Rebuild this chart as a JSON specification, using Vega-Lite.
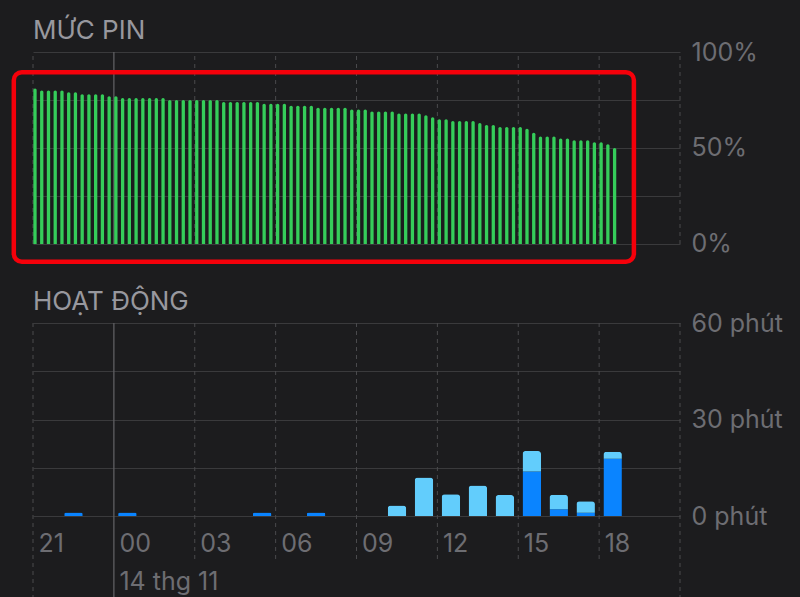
{
  "$schema": "https://vega.github.io/schema/vega-lite/v6.json",
  "description": "Pin iPhone: mức pin theo 15 phút và thời gian hoạt động theo giờ",
  "width": 647,
  "height": 464,
  "autosize": {"type": "none"},
  "padding": {"left": 33, "top": 52, "right": 120, "bottom": 81},
  "background": "#1c1c1e",
  "config": {"view": {"stroke": null}, "font": "Inter"},
  "datasets": {
    "muc_pin": [
      {"t": 0, "pin": 81}, {"t": 0.25, "pin": 80}, {"t": 0.5, "pin": 80}, {"t": 0.75, "pin": 80},
      {"t": 1, "pin": 80}, {"t": 1.25, "pin": 79}, {"t": 1.5, "pin": 79}, {"t": 1.75, "pin": 78},
      {"t": 2, "pin": 78}, {"t": 2.25, "pin": 78}, {"t": 2.5, "pin": 78}, {"t": 2.75, "pin": 77},
      {"t": 3, "pin": 77}, {"t": 3.25, "pin": 76}, {"t": 3.5, "pin": 76}, {"t": 3.75, "pin": 76},
      {"t": 4, "pin": 76}, {"t": 4.25, "pin": 76}, {"t": 4.5, "pin": 76}, {"t": 4.75, "pin": 76},
      {"t": 5, "pin": 75}, {"t": 5.25, "pin": 75}, {"t": 5.5, "pin": 75}, {"t": 5.75, "pin": 75},
      {"t": 6, "pin": 75}, {"t": 6.25, "pin": 75}, {"t": 6.5, "pin": 75}, {"t": 6.75, "pin": 75},
      {"t": 7, "pin": 74}, {"t": 7.25, "pin": 74}, {"t": 7.5, "pin": 74}, {"t": 7.75, "pin": 74},
      {"t": 8, "pin": 74}, {"t": 8.25, "pin": 74}, {"t": 8.5, "pin": 73}, {"t": 8.75, "pin": 73},
      {"t": 9, "pin": 73}, {"t": 9.25, "pin": 73}, {"t": 9.5, "pin": 72}, {"t": 9.75, "pin": 72},
      {"t": 10, "pin": 72}, {"t": 10.25, "pin": 72}, {"t": 10.5, "pin": 71}, {"t": 10.75, "pin": 71},
      {"t": 11, "pin": 71}, {"t": 11.25, "pin": 71}, {"t": 11.5, "pin": 71}, {"t": 11.75, "pin": 70},
      {"t": 12, "pin": 70}, {"t": 12.25, "pin": 70}, {"t": 12.5, "pin": 69}, {"t": 12.75, "pin": 69},
      {"t": 13, "pin": 69}, {"t": 13.25, "pin": 69}, {"t": 13.5, "pin": 68}, {"t": 13.75, "pin": 68},
      {"t": 14, "pin": 68}, {"t": 14.25, "pin": 68}, {"t": 14.5, "pin": 67}, {"t": 14.75, "pin": 66},
      {"t": 15, "pin": 65}, {"t": 15.25, "pin": 65}, {"t": 15.5, "pin": 64}, {"t": 15.75, "pin": 64},
      {"t": 16, "pin": 64}, {"t": 16.25, "pin": 64}, {"t": 16.5, "pin": 63}, {"t": 16.75, "pin": 62},
      {"t": 17, "pin": 62}, {"t": 17.25, "pin": 61}, {"t": 17.5, "pin": 61}, {"t": 17.75, "pin": 61},
      {"t": 18, "pin": 61}, {"t": 18.25, "pin": 60}, {"t": 18.5, "pin": 58}, {"t": 18.75, "pin": 56},
      {"t": 19, "pin": 56}, {"t": 19.25, "pin": 56}, {"t": 19.5, "pin": 55}, {"t": 19.75, "pin": 55},
      {"t": 20, "pin": 54}, {"t": 20.25, "pin": 54}, {"t": 20.5, "pin": 54}, {"t": 20.75, "pin": 53},
      {"t": 21, "pin": 53}, {"t": 21.25, "pin": 52}, {"t": 21.5, "pin": 50}
    ],
    "hoat_dong": [
      {"t": 1, "loai": "Màn hình bật", "phut": 1.1},
      {"t": 3, "loai": "Màn hình bật", "phut": 1.1},
      {"t": 8, "loai": "Màn hình bật", "phut": 1.1},
      {"t": 10, "loai": "Màn hình bật", "phut": 1.1},
      {"t": 13, "loai": "Màn hình tắt", "phut": 3.3},
      {"t": 14, "loai": "Màn hình tắt", "phut": 12},
      {"t": 15, "loai": "Màn hình tắt", "phut": 6.8},
      {"t": 16, "loai": "Màn hình tắt", "phut": 9.5},
      {"t": 17, "loai": "Màn hình tắt", "phut": 6.5},
      {"t": 18, "loai": "Màn hình bật", "phut": 13.8},
      {"t": 18, "loai": "Màn hình tắt", "phut": 6.4},
      {"t": 19, "loai": "Màn hình bật", "phut": 2.1},
      {"t": 19, "loai": "Màn hình tắt", "phut": 4.5},
      {"t": 20, "loai": "Màn hình bật", "phut": 1},
      {"t": 20, "loai": "Màn hình tắt", "phut": 3.6},
      {"t": 21, "loai": "Màn hình bật", "phut": 17.8},
      {"t": 21, "loai": "Màn hình tắt", "phut": 2.2}
    ],
    "luoi": [
      {"t": 0}, {"t": 3}, {"t": 6}, {"t": 9}, {"t": 12},
      {"t": 15}, {"t": 18}, {"t": 21}, {"t": 24}
    ]
  },
  "encoding": {
    "x": {
      "type": "quantitative",
      "scale": {"domain": [0, 24], "nice": false, "zero": false, "padding": 0},
      "axis": {
        "values": [0, 3, 6, 9, 12, 15, 18, 21, 24],
        "labelExpr": "datum.value == 24 ? '' : datum.value == 3 ? ['00', '14 thg 11'] : ['21', '00', '03', '06', '09', '12', '15', '18'][datum.value / 3]",
        "grid": false,
        "ticks": false,
        "domain": false,
        "title": null,
        "labelAlign": "left",
        "labelBaseline": "alphabetic",
        "labelPadding": 35,
        "labelOffset": 5,
        "labelFontSize": 25,
        "labelColor": "#6d6d72",
        "labelLineHeight": 38,
        "labelFlush": false,
        "labelOverlap": false,
        "labelBound": false
      }
    }
  },
  "layer": [
    {
      "layer": [
        {
          "data": {"name": "luoi"},
          "transform": [{"filter": "datum.t != 3"}],
          "mark": {"type": "rule", "color": "#4a4a4d", "strokeWidth": 1, "strokeDash": [4, 4]},
          "encoding": {
            "x": {"field": "t"},
            "y": {"datum": 0, "type": "quantitative", "scale": {"domain": [-141.67, 100], "nice": false, "zero": false}},
            "y2": {"datum": 100}
          }
        },
        {
          "data": {"name": "luoi"},
          "transform": [{"filter": "datum.t == 3"}],
          "mark": {"type": "rule", "color": "#5e5e62", "strokeWidth": 1.3},
          "encoding": {
            "x": {"field": "t"},
            "y": {"datum": 0, "type": "quantitative", "scale": {"domain": [-141.67, 100], "nice": false, "zero": false}},
            "y2": {"datum": 100}
          }
        },
        {
          "data": {"name": "muc_pin"},
          "mark": {
            "type": "bar",
            "size": 3.3,
            "xOffset": 2,
            "color": "#35cd5a",
            "cornerRadiusTopLeft": 1.6,
            "cornerRadiusTopRight": 1.6
          },
          "encoding": {
            "x": {"field": "t"},
            "y": {
              "field": "pin",
              "type": "quantitative",
              "scale": {"domain": [-141.67, 100], "nice": false, "zero": false},
              "axis": {
                "orient": "right",
                "values": [0, 25, 50, 75, 100],
                "labelExpr": "datum.value % 50 == 0 ? datum.value + '%' : ''",
                "title": null,
                "grid": true,
                "gridColor": "#3a3a3c",
                "gridWidth": 1.2,
                "ticks": false,
                "domain": false,
                "labelPadding": 11,
                "labelFontSize": 25,
                "labelColor": "#6d6d72"
              }
            },
            "y2": {"datum": 0}
          }
        },
        {
          "data": {"values": [{}]},
          "mark": {"type": "rect", "filled": false, "stroke": "#f5000a", "strokeWidth": 4.5, "cornerRadius": 8, "clip": false},
          "encoding": {
            "x": {"datum": -0.712},
            "x2": {"datum": 22.29},
            "y": {"datum": 89.5, "type": "quantitative", "scale": {"domain": [-141.67, 100], "nice": false, "zero": false}},
            "y2": {"datum": -9.2}
          }
        },
        {
          "data": {"values": [{}]},
          "mark": {"type": "text", "text": "MỨC PIN", "align": "left", "baseline": "alphabetic", "fontSize": 26, "color": "#98989e"},
          "encoding": {
            "x": {"datum": 0},
            "y": {"datum": 106.6, "type": "quantitative", "scale": {"domain": [-141.67, 100], "nice": false, "zero": false}}
          }
        }
      ]
    },
    {
      "layer": [
        {
          "data": {"name": "luoi"},
          "transform": [{"filter": "datum.t > 3 && datum.t < 24"}],
          "mark": {"type": "rule", "color": "#4a4a4d", "strokeWidth": 1, "strokeDash": [4, 4]},
          "encoding": {
            "x": {"field": "t"},
            "y": {"datum": 60, "type": "quantitative", "scale": {"domain": [0, 144.25], "nice": false, "zero": false}},
            "y2": {"datum": -14.6}
          }
        },
        {
          "data": {"name": "luoi"},
          "transform": [{"filter": "datum.t == 0 || datum.t == 24"}],
          "mark": {"type": "rule", "color": "#4a4a4d", "strokeWidth": 1, "strokeDash": [4, 4]},
          "encoding": {
            "x": {"field": "t"},
            "y": {"datum": 60, "type": "quantitative", "scale": {"domain": [0, 144.25], "nice": false, "zero": false}},
            "y2": {"datum": -27}
          }
        },
        {
          "data": {"name": "luoi"},
          "transform": [{"filter": "datum.t == 3"}],
          "mark": {"type": "rule", "color": "#5e5e62", "strokeWidth": 1.3},
          "encoding": {
            "x": {"field": "t"},
            "y": {"datum": 60, "type": "quantitative", "scale": {"domain": [0, 144.25], "nice": false, "zero": false}},
            "y2": {"datum": -27}
          }
        },
        {
          "data": {"name": "hoat_dong"},
          "mark": {
            "type": "bar",
            "size": 18.5,
            "xOffset": 13.5,
            "cornerRadiusTopLeft": 3,
            "cornerRadiusTopRight": 3
          },
          "encoding": {
            "x": {"field": "t"},
            "y": {
              "field": "phut",
              "type": "quantitative",
              "stack": "zero",
              "scale": {"domain": [0, 144.25], "nice": false, "zero": false},
              "axis": {
                "orient": "right",
                "values": [0, 15, 30, 45, 60],
                "labelExpr": "datum.value % 30 == 0 ? datum.value + ' phút' : ''",
                "title": null,
                "grid": true,
                "gridColor": "#3a3a3c",
                "gridWidth": 1.2,
                "ticks": false,
                "domain": false,
                "labelPadding": 11,
                "labelFontSize": 25,
                "labelColor": "#6d6d72"
              }
            },
            "color": {
              "field": "loai",
              "type": "nominal",
              "scale": {"domain": ["Màn hình bật", "Màn hình tắt"], "range": ["#0a84ff", "#62cdfc"]},
              "legend": null
            },
            "order": {"field": "loai", "sort": "ascending"}
          }
        },
        {
          "data": {"values": [{}]},
          "mark": {"type": "text", "text": "HOẠT ĐỘNG", "align": "left", "baseline": "alphabetic", "fontSize": 26, "color": "#98989e"},
          "encoding": {
            "x": {"datum": 0},
            "y": {"datum": 64.04, "type": "quantitative", "scale": {"domain": [0, 144.25], "nice": false, "zero": false}}
          }
        }
      ]
    }
  ],
  "resolve": {"scale": {"y": "independent"}, "axis": {"y": "independent"}}
}
